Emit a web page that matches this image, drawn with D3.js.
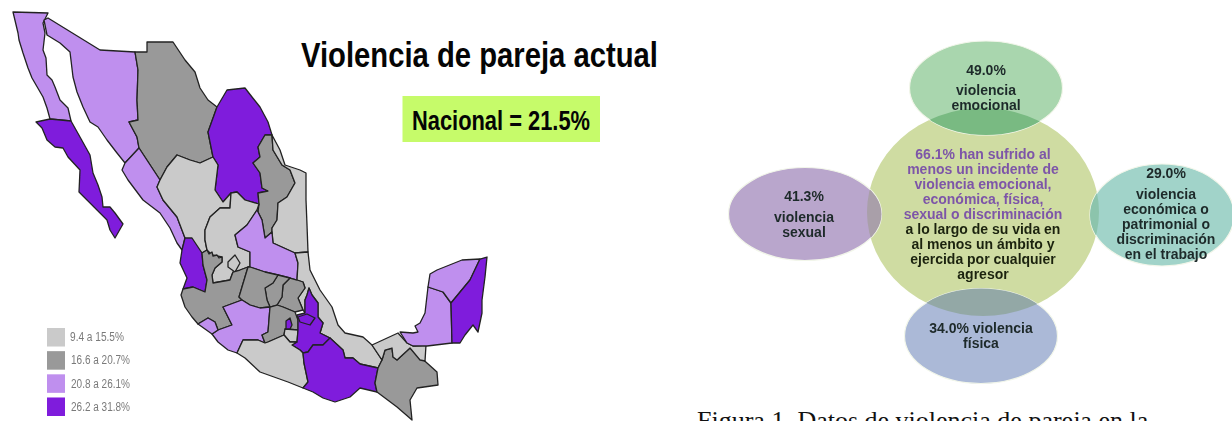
<!DOCTYPE html>
<html>
<head>
<meta charset="utf-8">
<script src="https://cdnjs.cloudflare.com/ajax/libs/d3/7.8.5/d3.min.js"></script>
<style>
  html, body { margin: 0; padding: 0; background: #fff; overflow: hidden; }
</style>
</head>
<body>
<script>
// state outlines (map units)
const stateNames = ["Baja California","Baja California Sur","Sonora","Chihuahua","Coahuila","Nuevo Leon","Tamaulipas","Sinaloa","Durango","Zacatecas","Aguascalientes","Nayarit","Jalisco","San Luis Potosi","Veracruz","Hidalgo","Queretaro","Guanajuato","Michoacan","Colima","Mexico","Morelos","CDMX","Puebla","Tlaxcala","Guerrero","Oaxaca","Chiapas","Tabasco","Campeche","Yucatan","Quintana Roo"];
// 0 = 9.4 a 15.5, 1 = 16.6 a 20.7, 2 = 20.8 a 26.1, 3 = 26.2 a 31.8
const stateClass = [2,3,2,1,3,1,0,2,0,0,0,3,1,2,0,1,1,1,2,2,1,0,3,3,3,0,3,1,0,2,2,3];
const stateShapes = [
  [[13,12],[48,13],[43,23],[45,33],[43,50],[46,58],[47,75],[52,80],[55,87],[60,100],[68,108],[71,121],[50,119],[47,108],[43,97],[32,78],[28,68],[23,53],[19,40],[18,33]],
  [[36,122],[50,119],[71,121],[80,137],[90,155],[93,173],[98,185],[102,197],[103,207],[110,207],[115,213],[123,224],[115,238],[110,230],[107,220],[97,210],[87,200],[79,192],[80,170],[68,157],[63,148],[55,147],[47,140],[42,128]],
  [[44,20],[48,18],[100,50],[135,52],[138,70],[137,100],[138,120],[129,122],[137,137],[139,148],[125,163],[117,153],[107,140],[98,127],[90,122],[83,107],[77,92],[73,77],[70,52],[60,43],[47,35]],
  [[135,52],[147,52],[147,42],[173,42],[185,60],[195,72],[200,88],[208,100],[217,107],[208,132],[213,157],[200,163],[190,160],[177,155],[167,167],[160,180],[139,148],[137,137],[129,122],[138,120],[137,100],[138,70]],
  [[217,107],[227,90],[245,88],[252,97],[260,107],[268,122],[272,135],[265,135],[258,147],[260,157],[253,163],[260,173],[262,188],[268,191],[258,193],[259,204],[245,200],[237,192],[231,193],[223,202],[215,190],[218,165],[213,157],[208,132]],
  [[265,135],[272,135],[273,150],[282,165],[290,170],[295,183],[287,197],[278,203],[277,220],[272,228],[272,232],[265,238],[262,220],[258,212],[259,204],[258,193],[268,191],[262,188],[260,173],[253,163],[260,157],[258,147]],
  [[272,135],[280,150],[285,165],[300,170],[306,173],[306,200],[307,225],[308,252],[295,253],[273,243],[272,232],[272,228],[277,220],[278,203],[287,197],[295,183],[290,170],[282,165],[273,150]],
  [[122,170],[125,163],[139,148],[160,180],[157,187],[163,200],[177,217],[185,238],[182,250],[177,243],[170,228],[160,213],[143,200],[128,180]],
  [[160,180],[167,167],[177,155],[190,160],[200,163],[213,157],[218,165],[215,190],[223,202],[231,193],[230,208],[220,208],[210,217],[205,230],[205,240],[207,250],[202,253],[185,238],[177,217],[163,200],[157,187]],
  [[220,208],[230,208],[231,193],[237,192],[245,200],[259,204],[257,210],[247,225],[235,235],[238,247],[250,252],[250,267],[248,267],[240,270],[233,272],[230,280],[213,283],[212,275],[215,268],[222,262],[222,257],[212,255],[207,250],[205,240],[205,230],[210,217]],
  [[228,262],[235,255],[240,263],[235,272],[228,267]],
  [[185,238],[192,238],[202,253],[203,265],[207,280],[205,292],[193,287],[183,289],[187,278],[180,263],[182,250]],
  [[207,250],[209,254],[212,252],[213,256],[217,255],[219,258],[222,257],[222,262],[215,268],[212,275],[213,283],[230,280],[233,272],[240,270],[248,267],[239,297],[242,300],[223,307],[232,325],[218,330],[215,322],[208,318],[198,324],[192,317],[185,307],[181,295],[183,289],[193,287],[205,292],[207,280],[203,265],[202,253]],
  [[257,210],[258,212],[262,220],[265,238],[272,232],[273,243],[295,253],[298,263],[297,280],[290,278],[278,275],[265,272],[250,267],[250,252],[238,247],[235,235],[247,225]],
  [[295,253],[308,252],[310,270],[320,290],[332,307],[338,325],[345,333],[363,337],[372,345],[382,360],[378,368],[360,364],[353,358],[345,358],[343,350],[330,338],[320,333],[323,323],[318,317],[318,303],[312,295],[309,288],[307,295],[305,300],[305,313],[303,310],[298,298],[305,288],[303,282],[297,280],[298,263]],
  [[290,278],[297,280],[303,282],[305,288],[298,298],[303,310],[295,312],[283,307],[277,305],[282,297],[283,285]],
  [[278,275],[290,278],[283,285],[282,297],[277,305],[270,307],[267,300],[265,288],[273,283]],
  [[248,267],[250,267],[265,272],[278,275],[273,283],[265,288],[267,300],[270,307],[260,308],[250,305],[242,300],[239,297]],
  [[223,307],[242,300],[250,305],[260,308],[270,307],[268,332],[262,335],[265,343],[258,340],[243,340],[237,353],[228,350],[218,342],[212,334],[218,330],[232,325]],
  [[198,324],[208,318],[215,322],[218,330],[212,334]],
  [[270,307],[277,305],[283,307],[295,312],[298,320],[298,330],[285,329],[284,335],[268,342],[265,343],[262,335],[268,332]],
  [[285,329],[298,330],[297,342],[290,342],[284,335]],
  [[286,321],[290,318],[292,325],[290,329],[286,329]],
  [[309,288],[312,295],[318,303],[318,317],[323,323],[320,333],[330,338],[323,345],[313,345],[308,352],[303,353],[300,350],[292,345],[297,342],[298,330],[298,320],[297,315],[305,313],[305,300],[307,295]],
  [[298,317],[307,314],[315,318],[310,325],[300,322]],
  [[237,353],[243,340],[258,340],[265,343],[268,342],[284,335],[290,342],[297,342],[292,345],[300,350],[303,353],[304,363],[308,382],[303,388],[288,382],[260,372],[245,358]],
  [[303,353],[308,352],[313,345],[323,345],[330,338],[343,350],[345,358],[353,358],[360,364],[378,368],[375,383],[377,392],[360,388],[350,397],[335,402],[323,398],[313,392],[303,388],[308,382],[304,363]],
  [[378,368],[382,360],[385,350],[392,348],[393,357],[397,360],[410,348],[427,363],[437,372],[438,385],[417,388],[410,400],[412,420],[397,407],[377,392],[375,383]],
  [[372,345],[398,333],[407,343],[413,346],[426,345],[425,361],[420,360],[410,348],[397,360],[393,357],[392,348],[385,350],[382,360]],
  [[400,332],[413,333],[418,332],[415,326],[420,323],[425,313],[428,287],[443,292],[451,303],[452,343],[427,346],[413,346],[407,343]],
  [[428,287],[430,274],[437,270],[462,260],[480,259],[470,280],[451,303],[443,292]],
  [[480,259],[487,257],[485,277],[482,300],[482,313],[478,332],[473,325],[465,335],[460,343],[452,343],[451,303],[470,280]]
];

const classColors = ["#cacaca", "#999999", "#bf8fee", "#7f1fdc"];
const legendLabels = ["9.4 a 15.5%", "16.6 a 20.7%", "20.8 a 26.1%", "26.2 a 31.8%"];

const chartTitle = "Violencia de pareja actual";
const nationalLabel = "Nacional = 21.5%";
const captionText = "Figura 1. Datos de violencia de pareja en la";

const bubbleLines = [
  ["49.0%", "violencia", "emocional"],
  ["41.3%", "violencia", "sexual"],
  ["29.0%", "violencia", "económica o", "patrimonial o", "discriminación", "en el trabajo"],
  ["34.0% violencia", "física"]
];
const centerPurple = ["66.1% han sufrido al", "menos un incidente de", "violencia emocional,", "económica, física,", "sexual o discriminación"];
const centerBlack = ["a lo largo de su vida en", "al menos un ámbito y", "ejercida por cualquier", "agresor"];

const width = 1232, height = 421;
const svg = d3.select("body").append("svg").attr("width", width).attr("height", height)
  .style("display", "block");

const defs = svg.append("defs");
defs.append("filter").attr("id", "soft").append("feGaussianBlur").attr("stdDeviation", 0.4);

// map
const mapG = svg.append("g").attr("filter", "url(#soft)");
const path = d3.geoPath(d3.geoIdentity());
const features = stateShapes.map((pts, i) => ({
  type: "Feature",
  properties: { name: stateNames[i], cls: stateClass[i] },
  geometry: { type: "Polygon", coordinates: [pts.concat([pts[0]])] }
}));
mapG.selectAll("path").data(features).enter().append("path")
  .attr("d", path)
  .attr("fill", d => classColors[d.properties.cls])
  .attr("stroke", "#222")
  .attr("stroke-width", 1.3)
  .attr("stroke-linejoin", "round");

// legend
const legendY = d3.scaleBand().domain(legendLabels).range([328, 416]).paddingInner(0.2);
const legend = svg.append("g").attr("filter", "url(#soft)");
legend.selectAll("rect").data(legendLabels).enter().append("rect")
  .attr("x", 47).attr("y", d => legendY(d)).attr("width", 18).attr("height", legendY.bandwidth())
  .attr("fill", (d, i) => classColors[i]);
legend.selectAll("text").data(legendLabels).enter().append("text")
  .attr("x", d => d.startsWith("9") ? 70 : 71)
  .attr("y", d => legendY(d) + legendY.bandwidth() / 2 + 4)
  .attr("font-family", "Liberation Sans, Arial, sans-serif")
  .attr("font-size", 12)
  .attr("fill", "#7a7a7a")
  .attr("textLength", d => d.startsWith("9") ? 54 : 59)
  .attr("lengthAdjust", "spacingAndGlyphs")
  .text(d => d);

// title and national box
svg.append("text").attr("x", 301).attr("y", 67)
  .attr("font-family", "Liberation Sans, Arial, sans-serif").attr("font-weight", "bold").attr("font-size", 35)
  .attr("textLength", 357).attr("lengthAdjust", "spacingAndGlyphs").attr("fill", "#050505")
  .text(chartTitle);
svg.append("rect").attr("x", 402.5).attr("y", 96).attr("width", 197.5).attr("height", 46).attr("fill", "#c6fb6a");
svg.append("text").attr("x", 412).attr("y", 130)
  .attr("font-family", "Liberation Sans, Arial, sans-serif").attr("font-weight", "bold").attr("font-size", 27)
  .attr("textLength", 178).attr("lengthAdjust", "spacingAndGlyphs").attr("fill", "#050505")
  .text(nationalLabel);

// right diagram
const circle = { cx: 983, cy: 212, rx: 116, ry: 104 };
const bubbleShape = [
  { cx: 986, cy: 88, rx: 76.5, ry: 47, fill: "#a9d6ae", lap: "#79ba82", tx: 986, ty: [75, 95, 110] },
  { cx: 805, cy: 214, rx: 76.5, ry: 46.5, fill: "#b9a6cc", lap: "#a99fa9", tx: 804, ty: [201, 222, 237] },
  { cx: 1162, cy: 215, rx: 72, ry: 51, fill: "#a1d3c9", lap: "#8cc4ac", tx: 1166, ty: [178, 199, 214, 229, 244, 259] },
  { cx: 981, cy: 336, rx: 76.5, ry: 47.5, fill: "#abb9d7", lap: "#93a8a6", tx: 981, ty: [333, 348] }
];

defs.append("clipPath").attr("id", "centerClip").append("ellipse")
  .attr("cx", circle.cx).attr("cy", circle.cy).attr("rx", circle.rx).attr("ry", circle.ry);

const diagram = svg.append("g").attr("filter", "url(#soft)");
diagram.append("ellipse")
  .attr("cx", circle.cx).attr("cy", circle.cy).attr("rx", circle.rx).attr("ry", circle.ry)
  .attr("fill", "#cfdca2");
const bubbles = diagram.selectAll("g.bubble").data(bubbleShape).enter().append("g").attr("class", "bubble");
bubbles.append("ellipse")
  .attr("cx", d => d.cx).attr("cy", d => d.cy).attr("rx", d => d.rx).attr("ry", d => d.ry)
  .attr("fill", d => d.fill).attr("stroke", "#f2f6ea").attr("stroke-width", 1.2);
bubbles.append("ellipse")
  .attr("clip-path", "url(#centerClip)")
  .attr("cx", d => d.cx).attr("cy", d => d.cy).attr("rx", d => d.rx).attr("ry", d => d.ry)
  .attr("fill", d => d.lap);

const textStyle = sel => sel
  .attr("font-family", "Liberation Sans, Arial, sans-serif")
  .attr("font-weight", "bold")
  .attr("font-size", 14)
  .attr("text-anchor", "middle");

bubbleShape.forEach((b, i) => {
  diagram.selectAll(null).data(bubbleLines[i]).enter().append("text")
    .call(textStyle)
    .attr("x", b.tx).attr("y", (d, j) => b.ty[j]).attr("fill", "#1f2a2a")
    .text(d => d);
});

const centerY = d3.scalePoint().domain(d3.range(9)).range([159, 279]);
diagram.selectAll(null).data(centerPurple).enter().append("text")
  .call(textStyle).attr("x", 983).attr("y", (d, j) => centerY(j)).attr("fill", "#7d55a8")
  .text(d => d);
diagram.selectAll(null).data(centerBlack).enter().append("text")
  .call(textStyle).attr("x", 983).attr("y", (d, j) => centerY(j + centerPurple.length)).attr("fill", "#1c2410")
  .text(d => d);

// caption, cut by the bottom of the page
svg.append("text").attr("x", 697).attr("y", 429)
  .attr("font-family", "Liberation Serif, Times New Roman, serif").attr("font-size", 26).attr("fill", "#111")
  .text(captionText);
</script>
</body>
</html>
